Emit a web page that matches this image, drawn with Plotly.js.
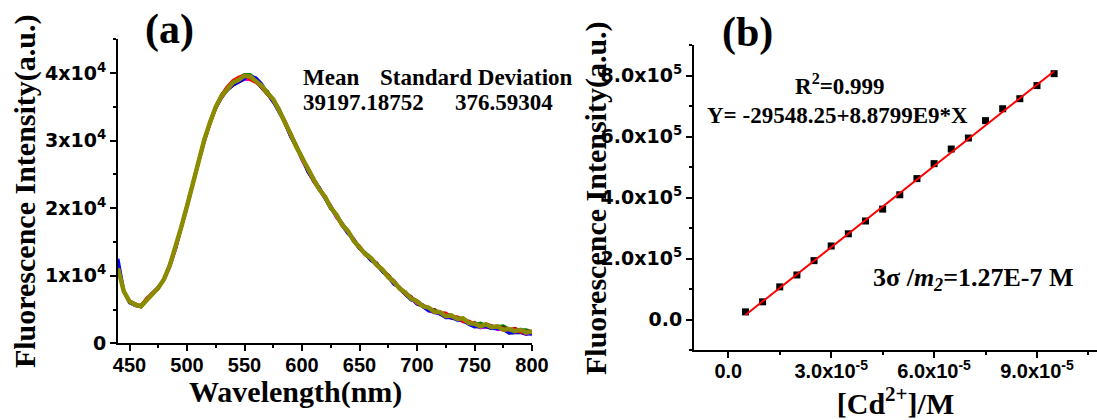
<!DOCTYPE html>
<html>
<head>
<meta charset="utf-8">
<script src="https://cdn.plot.ly/plotly-3.0.1.min.js"></script>
<style>
html,body{margin:0;padding:0;background:#fff;}
#chart{width:1097px;height:420px;}
</style>
</head>
<body>
<div id="chart"></div>
<script>
// ---------- Panel (a): fluorescence spectra (repeat measurements) ----------
const wavelength = [440,445,450,455,460,465,470,475,480,485,
  490,495,500,505,510,515,520,525,530,535,
  540,545,550,555,560,565,570,575,580,585,
  590,595,600,605,610,615,620,625,630,635,
  640,645,650,655,660,665,670,675,680,685,
  690,695,700,705,710,715,720,725,730,735,
  740,745,750,755,760,765,770,775,780,785,
  790,795,800];

// mean spectrum (counts)
const baseSpectrum = [11100,7700,6200,5700,5500,6500,7300,8200,9500,11500,
  14100,17200,20300,23600,27000,30100,32700,35000,36600,37700,
  38500,39100,39500,39400,38900,38100,37100,36000,34600,32800,
  30900,29200,27400,25700,24200,22900,21600,20200,18900,17600,
  16500,15300,14200,13300,12500,11700,10800,9900,9000,8200,
  7400,6700,6100,5600,5100,4800,4500,4200,4000,3700,
  3500,3100,2800,2700,2600,2500,2300,2200,2000,1900,
  1800,1700,1600];

const devRed = [0,1,-1,0,1,2,1,-1,1,0, -1,0,-2,-1,0,1,-2,-1,2,3, 4,3,2,-4,-3,-2,-3,1,-2,2,
  -1,2,-1,1,-2,-1,2,-1,1,-2, 1,-2,2,-1,1,-2,1,2,-1,1, -2,1,2,-1,2,-2,1,3,-1,2, -3,2,1,-2,3,-1,2,-3,1,2, -2,1,2];
const devBlue = [14,1,-2,-1,0,-1,0,1,-1,1, 0,-1,1,-1,-2,-1,0,-2,-1,-2, -3,-4,-3,2,4,3,-2,-3,-4,-1,
  -3,-2,1,-3,-1,2,-2,-3,1,-2, -3,1,-2,-1,-3,1,-2,-1,-3,1, -2,-3,1,-2,-3,-1,-2,-4,-2,-3, -1,-3,-4,-2,-1,-3,-2,-1,-4,-3, -2,-1,-3];
const devMagenta = [0,-1,0,1,0,-1,1,0,-1,-2, -2,-1,-1,-2,-1,-2,-1,1,-2,-1, -2,-3,-4,-3,-2,-1,-2,-3,1,-3,
  -2,1,-3,-2,1,-2,-1,2,-3,1, -2,2,-1,-2,2,-1,1,-2,3,-1, 2,-1,-2,1,-3,-2,2,-3,-2,1, -3,-1,2,-4,-2,1,-3,-1,-4,-2, -1,-3,-2];
const devWine = [0,0,1,0,-1,1,2,1,0,1, 1,-1,-1,0,-1,-2,-1,-2,-3,-2, -3,-5,-4,-3,-2,-1,1,-1,-2,1,
  2,-1,1,-2,-1,1,-1,-2,2,-1, 2,-1,-2,1,-1,2,-1,1,2,-2, 1,2,-2,1,-1,2,-2,1,-2,2, 1,-2,3,-1,2,1,-2,2,-1,3, 1,-1,2];
const devGreen = [0,0,0,1,0,0,1,0,0,0, 0,1,0,1,1,0,1,0,1,2, 1,2,3,4,1,-1,2,1,2,1,
  2,1,3,1,2,1,2,0,1,2, 1,2,0,1,2,1,0,2,1,0, 1,0,2,1,-1,2,0,1,2,-1, 2,1,-1,3,1,-1,2,4,1,-1, 2,3,1];
const devNavy = [2,0,-1,-1,-1,-1,0,-1,0,-1, -1,-1,0,-1,-1,-1,-2,0,-1,-2, -1,-2,-1,-2,-1,-3,-2,-1,-2,-1,
  -2,-1,-2,-1,-2,-1,-2,-1,-2,-1, -1,-2,-1,-2,-1,-2,-1,-2,-1,-2, -2,-1,-3,-1,-2,-3,-1,-2,-3,-1, -3,-2,-1,-4,-2,-3,-1,-2,-5,-3, -2,-4,-1];
const devOlive = [0,0,0,0,0,0,0,0,0,0, 0,0,0,0,0,0,0,0,0,0, 1,-1,1,1,-1,0,-1,1,-1,1,
  1,-1,1,-1,1,-1,1,-1,1,-1, 1,-1,1,-1,1,-1,1,-1,1,-1, 1,-1,1,-1,2,-1,1,-2,1,-1, 2,-1,1,-2,2,-1,2,-2,1,-1, 2,-1,1];

const spectraNames = ['Run 1','Run 2','Run 3','Run 4','Run 5','Run 6','Run 7'];
const spectraDevs = [devNavy, devGreen, devWine, devMagenta, devBlue, devRed, devOlive];
const spectraColors = ['#000080','#008000','#800000','#ff00ff','#0000ff','#ff0000','#8b8b00'];
const spectraWidths = [3,3,3,3,3,3,4.5];

const aTickVals = [450,500,550,600,650,700,750,800];
const aTickText = ['450','500','550','600','650','700','750','800'];
const aYTickVals = [0,10000,20000,30000,40000];
const aYTickText = ['0','1x10<sup>4</sup>','2x10<sup>4</sup>','3x10<sup>4</sup>','4x10<sup>4</sup>'];

const statHeaders = ['Mean','Standard Deviation'];
const statValues = ['39197.18752','376.59304'];

// ---------- Panel (b): calibration ----------
const cdConc = [0.5e-5,1.0e-5,1.5e-5,2.0e-5,2.5e-5,3.0e-5,3.5e-5,4.0e-5,4.5e-5,5.0e-5,
  5.5e-5,6.0e-5,6.5e-5,7.0e-5,7.5e-5,8.0e-5,8.5e-5,9.0e-5,9.5e-5];
const cdIntensity = [25000,58000,107000,146000,193000,241000,281000,323000,362000,409000,
  462000,511000,559000,595000,652000,691000,724000,767000,806000];
const fitIntercept = -29548.25;
const fitSlope = 8.8799e9;

const bXTickVals = [0,3e-5,6e-5,9e-5];
const bXTickText = ['0.0','3.0x10<sup>-5</sup>','6.0x10<sup>-5</sup>','9.0x10<sup>-5</sup>'];
const bYTickVals = [0,200000,400000,600000,800000];
const bYTickText = ['0.0','2.0x10<sup>5</sup>','4.0x10<sup>5</sup>','6.0x10<sup>5</sup>','8.0x10<sup>5</sup>'];

// ---------- build traces ----------
const traces = [];
spectraDevs.forEach((dev, k) => {
  traces.push({
    type: 'scatter', mode: 'lines', name: spectraNames[k],
    x: wavelength,
    y: baseSpectrum.map((v, i) => v + dev[i] * 100),
    line: {color: spectraColors[k], width: spectraWidths[k]},
    xaxis: 'x', yaxis: 'y', showlegend: false, hoverinfo: 'skip'
  });
});
traces.push({
  type: 'scatter', mode: 'markers', name: 'data',
  x: cdConc, y: cdIntensity,
  marker: {symbol: 'square', size: 7, color: '#000'},
  xaxis: 'x2', yaxis: 'y2', showlegend: false
});
const fitX = [cdConc[0], cdConc[cdConc.length - 1]];
traces.push({
  type: 'scatter', mode: 'lines', name: 'fit',
  x: fitX, y: fitX.map(x => fitIntercept + fitSlope * x),
  line: {color: '#ff0000', width: 2},
  xaxis: 'x2', yaxis: 'y2', showlegend: false
});

// ---------- layout ----------
const W = 1097, H = 420;
const px = v => v / W;
const py = v => 1 - v / H;
const serif = 'Liberation Serif, Times New Roman, serif';
const sans = 'Liberation Sans, Arial, sans-serif';
const dejavu = 'DejaVu Sans, sans-serif';
const xTickFont = {family: sans, size: 20, color: '#000', weight: 'bold'};
const yTickFont = {family: dejavu, size: 19, color: '#000', weight: 'bold'};
const titleFont = {family: serif, size: 30, color: '#000', weight: 'bold'};

const axisCommon = {
  showline: true, linecolor: '#000', linewidth: 2,
  ticks: 'outside', ticklen: 6, tickwidth: 2, tickcolor: '#000',
  showgrid: false, zeroline: false, tickmode: 'array', automargin: false
};

function note(text, x, y, size, extra) {
  return Object.assign({
    text: text, x: px(x), y: py(y), xref: 'paper', yref: 'paper',
    xanchor: 'left', yanchor: 'middle', showarrow: false,
    font: {family: serif, size: size, color: '#000', weight: 'bold'}
  }, extra || {});
}

const layout = {
  width: W, height: H,
  margin: {l: 0, r: 0, t: 0, b: 0},
  paper_bgcolor: '#fff', plot_bgcolor: '#fff',
  showlegend: false,
  xaxis: Object.assign({}, axisCommon, {
    domain: [px(118), px(532)], range: [440, 800], anchor: 'y',
    tickvals: aTickVals, ticktext: aTickText, tickfont: xTickFont, ticklabelstandoff: -3,
    minor: {ticks: 'outside', ticklen: 3, tickwidth: 2, tickcolor: '#000', tick0: 450, dtick: 25}
  }),
  yaxis: Object.assign({}, axisCommon, {
    domain: [py(343.3), py(39.3)], range: [0, 45000], anchor: 'x',
    tickvals: aYTickVals, ticktext: aYTickText, tickfont: yTickFont,
    minor: {ticks: 'outside', ticklen: 3, tickwidth: 2, tickcolor: '#000', tick0: 0, dtick: 5000},
    title: {text: 'Fluorescence Intensity(a.u.)', font: titleFont, standoff: 1}
  }),
  xaxis2: Object.assign({}, axisCommon, {
    domain: [px(694), 1], range: [-1e-5, 1.075e-4], anchor: 'y2',
    tickvals: bXTickVals, ticktext: bXTickText, tickfont: xTickFont, ticklabelstandoff: -4,
    minor: {ticks: 'outside', ticklen: 3, tickwidth: 2, tickcolor: '#000', tick0: 0, dtick: 1.5e-5},
    title: {text: '[Cd<sup>2+</sup>]/M', font: titleFont, standoff: 12}
  }),
  yaxis2: Object.assign({}, axisCommon, {
    domain: [py(350), py(45)], range: [-100000, 900000], anchor: 'x2',
    tickvals: bYTickVals, ticktext: bYTickText, tickfont: yTickFont,
    minor: {ticks: 'outside', ticklen: 3, tickwidth: 2, tickcolor: '#000', tick0: 0, dtick: 100000}
  }),
  annotations: [
    note('Wavelength(nm)', 295, 392, 30, {xanchor: 'center'}),
    note('Fluorescence Intensity(a.u.)', 596, 198, 30, {xanchor: 'center', textangle: -90}),
    note('(a)', 169, 30, 42, {xanchor: 'center'}),
    note('(b)', 747, 33, 42, {xanchor: 'center'}),
    note(statHeaders[0], 301, 77, 23),
    note(statHeaders[1], 378, 77, 23),
    note(statValues[0], 301, 102, 23),
    note(statValues[1], 453, 102, 23),
    note('R<sup>2</sup>=0.999', 793, 85, 23),
    note('Y= ' + fitIntercept + '+8.8799E9*X', 705, 115, 23),
    note('3σ /<i>m<sub>2</sub></i>=1.27E-7 M', 871, 279, 26)
  ]
};

Plotly.newPlot('chart', traces, layout, {staticPlot: true, displayModeBar: false});
</script>
</body>
</html>
